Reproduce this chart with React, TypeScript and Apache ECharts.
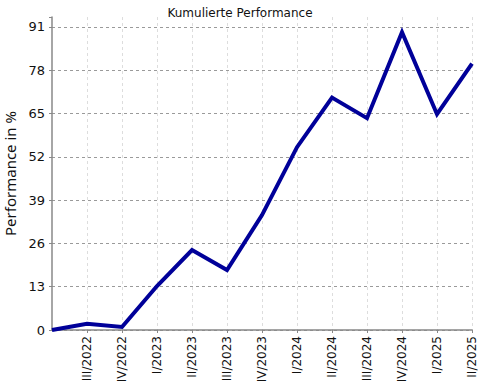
import React, { useEffect, useRef } from "react";
import * as echarts from "echarts";

const categories = ["II/2022", "III/2022", "IV/2022", "I/2023", "II/2023", "III/2023", "IV/2023", "I/2024", "II/2024", "III/2024", "IV/2024", "I/2025", "II/2025"];
const performance = [0, 1.9, 0.9, 13.2, 24, 18, 34.5, 54.9, 69.8, 63.6, 89.4, 64.8, 80];
const yTicks = [0, 13, 26, 39, 52, 65, 78, 91];

export default function App() {
  const ref = useRef<HTMLDivElement>(null);
  useEffect(() => {
    if (!ref.current) return;
    const chart = echarts.init(ref.current, undefined, { renderer: "svg" });
    const splitColors = [...yTicks.map(() => "#9a9a9a"), "rgba(0,0,0,0)"];
    chart.setOption({
      animation: false,
      backgroundColor: "#ffffff",
      title: {
        text: "Kumulierte Performance",
        left: "center",
        top: 2,
        textStyle: { fontFamily: "DejaVu Sans", fontSize: 12, fontWeight: "normal", color: "#111" },
      },
      grid: { left: 52, right: 8, top: 17, bottom: 58, containLabel: false, outerBoundsMode: "none" },
      xAxis: {
        type: "category",
        data: categories,
        boundaryGap: false,
        axisLine: { lineStyle: { color: "#888", width: 1.5 } },
        axisTick: { show: true, length: 3, lineStyle: { color: "#888" }, interval: (i: number) => i > 0 },
        axisLabel: {
          rotate: 90,
          interval: 0,
          margin: 6,
          fontFamily: "DejaVu Sans",
          fontSize: 12,
          color: "#111",
          formatter: (v: string, i: number) => (i === 0 ? "" : v),
        },
        splitLine: { show: true, interval: (i: number) => i > 0, lineStyle: { color: "#dddddd", type: [3, 3] } },
      },
      yAxis: {
        type: "value",
        min: 0,
        max: 94,
        interval: 13,
        name: "Performance in %",
        nameLocation: "middle",
        nameRotate: 90,
        nameGap: 31,
        nameTextStyle: { fontFamily: "Noto Sans", fontSize: 15, color: "#111" },
        axisLine: { show: true, lineStyle: { color: "#888", width: 1.5 } },
        axisTick: { show: true, length: 3, lineStyle: { color: "#888" } },
        axisLabel: {
          margin: 7,
          fontFamily: "DejaVu Sans",
          fontSize: 13,
          color: "#111",
          formatter: (v: number) => (yTicks.includes(v) ? String(v) : ""),
        },
        splitLine: { show: true, lineStyle: { color: splitColors, type: [3, 3] } },
      },
      series: [
        {
          type: "line",
          data: performance,
          showSymbol: false,
          lineStyle: { color: "#000099", width: 4, join: "miter" },
          itemStyle: { color: "#000099" },
        },
      ],
    });
    return () => chart.dispose();
  }, []);
  return <div ref={ref} style={{ width: 480, height: 388, position: "absolute", left: 0, top: 0 }} />;
}
